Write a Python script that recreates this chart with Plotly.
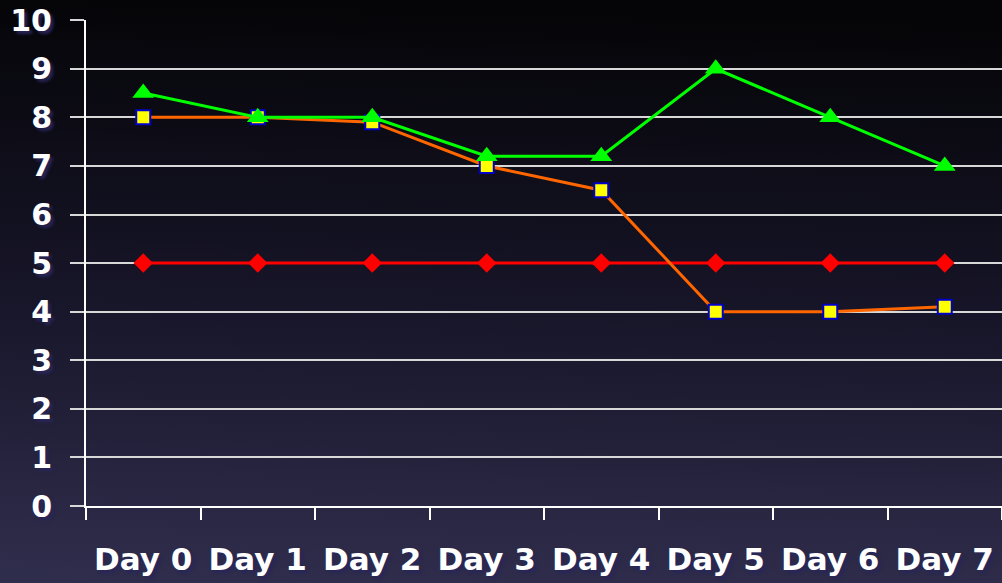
import base64
import plotly.graph_objects as go

categories = ["Day 0", "Day 1", "Day 2", "Day 3", "Day 4", "Day 5", "Day 6", "Day 7"]
green_vals = [8.5, 8.0, 8.0, 7.2, 7.2, 9.0, 8.0, 7.0]
orange_vals = [8.0, 8.0, 7.9, 7.0, 6.5, 4.0, 4.0, 4.1]
red_vals = [5, 5, 5, 5, 5, 5, 5, 5]
y_ticks = list(range(0, 11))

W, H = 1002, 583
L, R, T, B = 86, 0, 20, 77

svg = (
    '<svg xmlns="http://www.w3.org/2000/svg" width="100" height="100" preserveAspectRatio="none">'
    '<defs><linearGradient id="g" x1="0.05" y1="0" x2="0" y2="1">'
    '<stop offset="0" stop-color="#050508"/>'
    '<stop offset="0.5" stop-color="#171528"/>'
    '<stop offset="1" stop-color="#302e4d"/>'
    '</linearGradient></defs>'
    '<rect width="100" height="100" fill="url(#g)"/></svg>'
)
src = "data:image/svg+xml;base64," + base64.b64encode(svg.encode()).decode()

pw, ph = W - L - R, H - T - B

fig = go.Figure()
shadow = "3px 3px 3px rgba(40,38,90,0.95)"

fig.add_trace(go.Scatter(
    x=categories, y=red_vals, mode="lines+markers",
    line=dict(color="#ff0000", width=3),
    marker=dict(symbol="diamond", size=15, color="#ff0000"),
))
fig.add_trace(go.Scatter(
    x=categories, y=orange_vals, mode="lines+markers",
    line=dict(color="#ff6600", width=3),
    marker=dict(symbol="square", size=14, color="#ffff00", line=dict(color="#0000cc", width=2)),
))
fig.add_trace(go.Scatter(
    x=categories, y=green_vals, mode="lines+markers",
    line=dict(color="#00ff00", width=3),
    marker=dict(symbol="triangle-up", size=19, color="#00ff00"),
))

fig.update_layout(
    width=W, height=H,
    margin=dict(l=L, r=R, t=T, b=B),
    paper_bgcolor="rgba(0,0,0,0)",
    plot_bgcolor="rgba(0,0,0,0)",
    showlegend=False,
    images=[dict(
        source=src, xref="paper", yref="paper",
        x=-L / pw, y=1 + T / ph, sizex=W / pw, sizey=H / ph,
        xanchor="left", yanchor="top", sizing="stretch", layer="below",
    )],
    font=dict(family="DejaVu Sans", color="white"),
)

fig.update_xaxes(
    type="category", range=[-0.5, 7.5],
    showgrid=False, showline=True, linecolor="white", linewidth=2,
    ticks="outside", tickson="boundaries", ticklen=12, tickcolor="white", tickwidth=2,
    tickfont=dict(size=31, color="white", family="DejaVu Sans", weight="bold", shadow=shadow),
    ticklabelstandoff=25,
)
fig.update_yaxes(
    range=[0, 10.004], tickvals=y_ticks,
    showgrid=True, gridcolor="#d8d8d8", gridwidth=2,
    zeroline=False,
    showline=True, linecolor="white", linewidth=2,
    ticks="outside", ticklen=14, tickcolor="#d8d8d8", tickwidth=2,
    tickfont=dict(size=30, color="white", family="DejaVu Sans", weight="bold", shadow=shadow),
    ticklabelstandoff=12,
)

fig.write_html(
    "out.html",
    config={"displayModeBar": False},
    post_script="document.body.style.margin='0';document.body.style.background='#050508';",
)
